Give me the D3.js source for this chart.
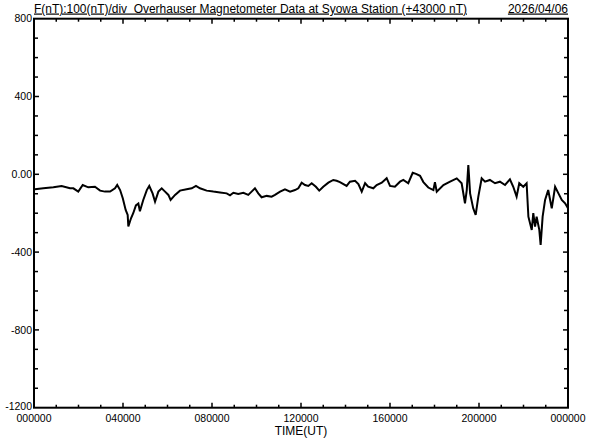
<!DOCTYPE html>
<html><head><meta charset="utf-8">
<script src="https://cdn.jsdelivr.net/npm/d3@7"></script>
<style>
html,body{margin:0;padding:0;background:#fff;}
svg{display:block;}
text{font-family:"Liberation Sans",Arial,sans-serif;fill:#000;}
</style></head>
<body>
<svg id="chart" width="592" height="440"></svg>
<script>
// Time (hours UT) and F value (nT, offset from 43000 nT)
const timeHours = [0.04,0.42,0.87,1.24,1.62,1.77,1.99,2.19,2.44,2.74,2.97,3.19,3.42,3.64,3.74,3.87,3.99,4.12,4.21,4.24,4.36,4.46,4.58,4.69,4.76,4.91,5.07,5.18,5.33,5.44,5.59,5.74,5.89,6.04,6.14,6.34,6.56,6.86,7.09,7.28,7.46,7.76,8.06,8.36,8.66,8.81,8.96,9.18,9.41,9.63,9.78,9.93,10.08,10.23,10.46,10.68,10.83,11.06,11.28,11.51,11.73,11.88,12.03,12.18,12.33,12.48,12.67,12.82,13.00,13.23,13.45,13.60,13.75,14.05,14.20,14.43,14.58,14.73,14.88,15.02,15.25,15.40,15.63,15.85,16.00,16.22,16.45,16.60,16.82,17.02,17.17,17.35,17.50,17.72,17.95,18.02,18.10,18.40,18.70,19.00,19.22,19.37,19.45,19.52,19.60,19.74,19.85,19.97,20.12,20.27,20.49,20.72,20.94,21.17,21.39,21.54,21.69,21.81,21.99,22.14,22.22,22.37,22.44,22.52,22.59,22.71,22.77,22.86,22.97,23.11,23.27,23.42,23.57,23.72,23.87,24.00];
const fValues = [-77,-72,-67,-60,-72,-72,-89,-55,-67,-64,-84,-89,-89,-72,-55,-81,-123,-183,-209,-268,-226,-200,-160,-150,-190,-132,-81,-60,-98,-141,-89,-72,-89,-106,-132,-106,-84,-77,-72,-60,-72,-84,-89,-93,-98,-108,-95,-101,-95,-106,-89,-72,-98,-118,-111,-115,-106,-89,-77,-89,-81,-72,-43,-55,-60,-46,-64,-84,-64,-43,-29,-33,-40,-60,-38,-33,-50,-89,-46,-64,-72,-55,-43,-20,-60,-64,-38,-29,-46,8,2,-8,-40,-68,-81,-40,-89,-55,-38,-21,-46,-149,-81,48,-98,-175,-209,-115,-21,-38,-29,-46,-38,-55,-26,-64,-115,-46,-64,-46,-218,-286,-200,-269,-218,-286,-363,-218,-132,-81,-175,-64,-98,-132,-149,-175];

const yTickValues = [800,400,0,-400,-800,-1200];
const yTickLabels = ["800","400","0.00","-400","-800","-1200"];
const xTickValues = [0,4,8,12,16,20,24];
const xTickLabels = ["000000","040000","080000","120000","160000","200000","000000"];
const titleText = "F(nT):100(nT)/div  Overhauser Magnetometer Data at Syowa Station (+43000 nT)";
const dateText = "2026/04/06";
const xAxisTitle = "TIME(UT)";

const L = 34, R = 568, T = 18.7, B = 407.7;
const svg = d3.select("#chart");
const x = d3.scaleLinear().domain([0,24]).range([L,R]);
const y = d3.scaleLinear().domain([-1200,800]).range([B,T]);

// minor/major ticks
const g = svg.append("g").attr("stroke","#000").attr("stroke-width",1.5);
const hours = d3.range(1,24);
hours.forEach(h=>{
  const len = (h%4===0)?5:3;
  g.append("line").attr("x1",x(h)).attr("x2",x(h)).attr("y1",B).attr("y2",B-len);
  g.append("line").attr("x1",x(h)).attr("x2",x(h)).attr("y1",T).attr("y2",T+len);
});
d3.range(-1100,800,100).forEach(v=>{
  const len = (v%400===0)?5:4;
  g.append("line").attr("x1",L).attr("x2",L+len).attr("y1",y(v)).attr("y2",y(v));
  g.append("line").attr("x1",R).attr("x2",R-len).attr("y1",y(v)).attr("y2",y(v));
});

// data line
const line = d3.line().x((d,i)=>x(timeHours[i])).y(d=>y(d));
svg.append("path").datum(fValues).attr("d",line)
  .attr("fill","none").attr("stroke","#000").attr("stroke-width",2).attr("stroke-linejoin","miter");

// frame
svg.append("rect").attr("x",L).attr("y",T).attr("width",R-L).attr("height",B-T)
  .attr("fill","none").attr("stroke","#000").attr("stroke-width",2);

// y labels
svg.selectAll(".yl").data(yTickValues).enter().append("text")
  .attr("x",L-2).attr("y",d=>y(d)).attr("dy",d=>d===-1200?"0.2em":"0.35em").attr("text-anchor","end")
  .attr("font-size","10.5px").text((d,i)=>yTickLabels[i]);

// x labels
svg.selectAll(".xl").data(xTickValues).enter().append("text")
  .attr("x",d=>x(d)).attr("y",422).attr("text-anchor","middle")
  .attr("font-size","10.5px").text((d,i)=>xTickLabels[i]);

svg.append("text").attr("x",(L+R)/2).attr("y",435).attr("text-anchor","middle")
  .attr("font-size","12px").text(xAxisTitle);

svg.append("text").attr("x",L).attr("y",12.5).attr("font-size","12px")
  .attr("textLength",433).attr("lengthAdjust","spacingAndGlyphs")
  .attr("text-decoration","underline").style("white-space","pre").text(titleText);
svg.append("text").attr("x",R).attr("y",12.5).attr("font-size","12px").attr("text-anchor","end")
  .attr("text-decoration","underline").text(dateText);
</script>
</body></html>
